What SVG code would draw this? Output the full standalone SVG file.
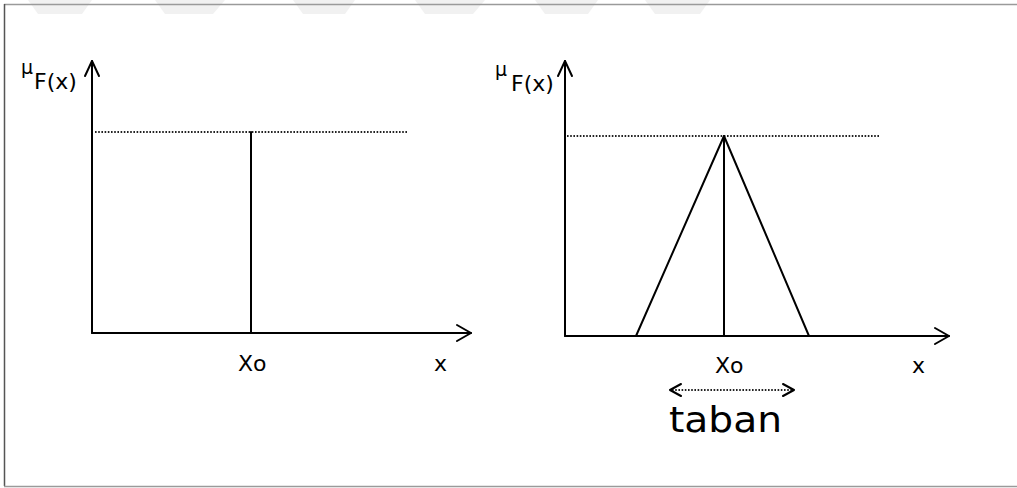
<svg xmlns="http://www.w3.org/2000/svg" width="1017" height="488" viewBox="0 0 1017 488">
<style>
.ax{stroke:#000;stroke-width:2;fill:none;stroke-linecap:round;stroke-linejoin:round}
.dot{stroke:#222;stroke-width:2;stroke-dasharray:1.6 1.6;fill:none}
.t{font-family:"DejaVu Sans","Liberation Sans",sans-serif;fill:#000}
.wm{fill:#f1f1f1}
</style>
<rect width="1017" height="488" fill="#fff"/>
<g id="watermark">
<polygon class="wm" points="28,0 92,0 82,14 38,14"/>
<polygon class="wm" points="155,0 225,0 213,14 165,14"/>
<polygon class="wm" points="293,0 355,0 345,14 303,14"/>
<polygon class="wm" points="415,0 485,0 473,14 425,14"/>
<polygon class="wm" points="535,0 598,0 588,14 545,14"/>
<polygon class="wm" points="645,0 710,0 700,14 655,14"/>
</g>
<g id="frame" fill="none">
<line x1="4" y1="4.5" x2="1017" y2="4.5" stroke="#9a9a9a" stroke-width="1.5"/>
<line x1="4.5" y1="4" x2="4.5" y2="486" stroke="#555" stroke-width="1.5"/>
<line x1="4" y1="486.5" x2="1017" y2="486.5" stroke="#9a9a9a" stroke-width="1.5"/>
</g>
<g id="chart-left">
<line class="ax" x1="92" y1="333" x2="92" y2="61"/>
<polyline class="ax" points="85,76 92,61 99,76"/>
<line class="ax" x1="92" y1="333" x2="471" y2="333"/>
<polyline class="ax" points="457,325 471,333 457,341"/>
<line class="dot" x1="95" y1="132" x2="408" y2="132"/>
<line class="ax" x1="251" y1="132" x2="251" y2="333"/>
<text class="t" x="21" y="74" font-size="19">μ</text>
<text class="t" x="34" y="89" font-size="22">F(x)</text>
<text class="t" x="238" y="371" font-size="22">Xo</text>
<text class="t" x="434" y="371" font-size="22">x</text>
</g>
<g id="chart-right">
<line class="ax" x1="565" y1="336" x2="565" y2="61"/>
<polyline class="ax" points="558,76 565,61 572,76"/>
<line class="ax" x1="565" y1="336" x2="949" y2="336"/>
<polyline class="ax" points="935,328 949,336 935,344"/>
<line class="dot" x1="567" y1="136" x2="880" y2="136"/>
<polyline class="ax" points="636,336 724,136 809,336"/>
<line class="ax" x1="724" y1="136" x2="724" y2="336"/>
<text class="t" x="495" y="76" font-size="19">μ</text>
<text class="t" x="511" y="91" font-size="22">F(x)</text>
<text class="t" x="715" y="373" font-size="22">Xo</text>
<text class="t" x="912" y="373" font-size="22">x</text>
</g>
<g id="connectors">
<line class="dot" x1="672" y1="390" x2="792" y2="390"/>
<polyline class="ax" points="681,384 670,390 681,396"/>
<polyline class="ax" points="783,384 794,390 783,396"/>
</g>
<g id="label-taban">
<text class="t" x="669" y="432" font-size="36" textLength="113" lengthAdjust="spacingAndGlyphs">taban</text>
</g>
</svg>
